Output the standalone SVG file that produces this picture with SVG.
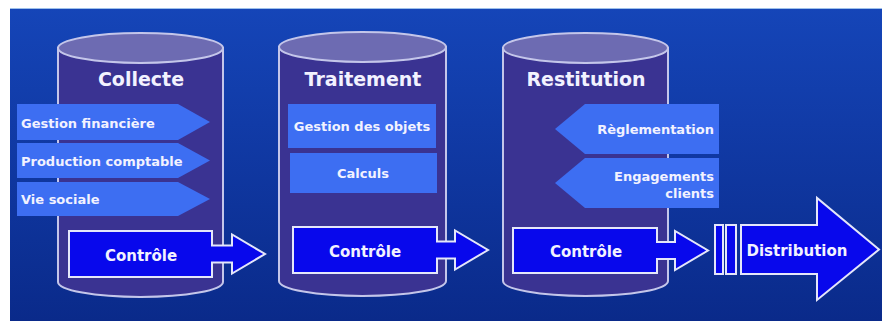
<svg xmlns="http://www.w3.org/2000/svg" width="882" height="321" viewBox="0 0 882 321">
<defs>
<linearGradient id="bg" x1="0" y1="0" x2="0" y2="1">
<stop offset="0" stop-color="#1545b8"/>
<stop offset="1" stop-color="#0a2a8a"/>
</linearGradient>
</defs>
<style>
.body{fill:#3a3392;stroke:#c4c6ea;stroke-width:2}
.top{fill:#6d6bb2;stroke:#c4c6ea;stroke-width:2}
.tag{fill:#3d6ef2}
.ctl{fill:#0808ec;stroke:#e4e6fa;stroke-width:2}
text{font-family:"DejaVu Sans","Liberation Sans",sans-serif;font-weight:bold;fill:#f2f2ff}
.title{font-size:19px;text-anchor:middle}
.lbl{font-size:13px}
.mid{text-anchor:middle}
.end{text-anchor:end}
.big{font-size:15px;text-anchor:middle}
</style>
<rect x="0" y="0" width="882" height="321" fill="#ffffff"/>
<rect x="10" y="8" width="872" height="313" fill="url(#bg)"/>
<line x1="10" y1="8.5" x2="882" y2="8.5" stroke="#9ec0ea" stroke-width="1"/>

<g id="collecte">
<path class="body" d="M58,48 V282 A82.5,15 0 0 0 223,282 V48 Z"/>
<ellipse class="top" cx="140.5" cy="48" rx="82.5" ry="15"/>
<text class="title" x="141" y="86">Collecte</text>
</g>
<g id="traitement">
<path class="body" d="M279,47 V281 A83.5,15 0 0 0 446,281 V47 Z"/>
<ellipse class="top" cx="362.5" cy="47" rx="83.5" ry="15"/>
<text class="title" x="363" y="86">Traitement</text>
</g>
<g id="restitution">
<path class="body" d="M503,48 V281 A82.5,15 0 0 0 668,281 V48 Z"/>
<ellipse class="top" cx="585.5" cy="48" rx="82.5" ry="15"/>
<text class="title" x="586" y="86">Restitution</text>
</g>

<g id="gestion-financiere">
<path class="tag" d="M17,104 H178 L210,122 L178,140 H17 Z"/>
<text class="lbl" x="21" y="128">Gestion financière</text>
</g>
<g id="production-comptable">
<path class="tag" d="M17,143 H178 L210,160.5 L178,178 H17 Z"/>
<text class="lbl" x="21" y="166">Production comptable</text>
</g>
<g id="vie-sociale">
<path class="tag" d="M17,182 H178 L210,199 L178,216 H17 Z"/>
<text class="lbl" x="21" y="204">Vie sociale</text>
</g>

<g id="gestion-objets">
<rect class="tag" x="288" y="104" width="148" height="44"/>
<text class="lbl mid" x="362" y="131">Gestion des objets</text>
</g>
<g id="calculs">
<rect class="tag" x="290" y="153" width="147" height="40"/>
<text class="lbl mid" x="363" y="178">Calculs</text>
</g>

<g id="reglementation">
<path class="tag" d="M555,129 L585,104 H719 V154 H585 Z"/>
<text class="lbl end" x="714" y="134">Règlementation</text>
</g>
<g id="engagements-clients">
<path class="tag" d="M555,183 L585,158 H719 V208 H585 Z"/>
<text class="lbl end" x="714" y="181">Engagements</text>
<text class="lbl end" x="714" y="198">clients</text>
</g>

<g id="controle-1">
<path class="ctl" d="M69,231 H212 V245.5 H232 V234.5 L265,254 L232,273.5 V262.5 H212 V277 H69 Z"/>
<text class="big" x="141" y="261">Contrôle</text>
</g>
<g id="controle-2">
<path class="ctl" d="M293,227 H437 V241.5 H455 V230.5 L488,250 L455,269.5 V258.5 H437 V273 H293 Z"/>
<text class="big" x="365" y="257">Contrôle</text>
</g>
<g id="controle-3">
<path class="ctl" d="M513,228 H657 V242 H675 V231 L708,250.5 L675,270 V259 H657 V273 H513 Z"/>
<text class="big" x="586" y="257">Contrôle</text>
</g>

<g id="connectors">
<rect class="ctl" x="715" y="225" width="8" height="49"/>
<rect class="ctl" x="726" y="225" width="10" height="49"/>
</g>

<g id="distribution">
<path class="ctl" d="M741,225 H817 V198 L879,249.5 L817,300 V274 H741 Z"/>
<text class="big" x="797" y="256">Distribution</text>
</g>
</svg>
